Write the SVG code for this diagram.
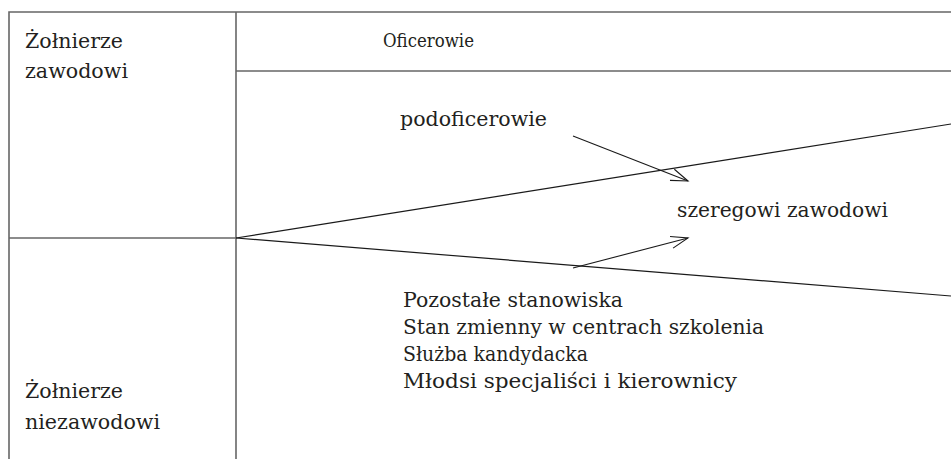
<svg xmlns="http://www.w3.org/2000/svg" width="951" height="459" viewBox="0 0 951 459">
  <style>
    .t { font-family: "DejaVu Serif", "Liberation Serif", serif; font-size: 20px; fill: #231f20; }
    .small { font-size: 19px; }
    .frame { stroke: #666666; stroke-width: 1.6; fill: none; }
    .diag { stroke: #1a1a1a; stroke-width: 1.2; fill: none; }
    .arrow { stroke: #1a1a1a; stroke-width: 1.1; fill: none; marker-end: url(#open); }
  </style>
  <defs>
    <marker id="open" markerUnits="userSpaceOnUse" markerWidth="24" markerHeight="20" refX="0" refY="0" viewBox="-20 -10 24 20" orient="auto" overflow="visible">
      <path d="M-17,-6 L0,0 L-17,6" fill="none" stroke="#1a1a1a" stroke-width="1.1"/>
    </marker>
  </defs>
  <rect width="951" height="459" fill="#ffffff"/>

  <g id="frame">
    <path class="frame" d="M9,459 V12 H951"/>
    <path class="frame" d="M236,12 V459"/>
    <path class="frame" d="M236,71 H951"/>
    <path class="frame" d="M9,238 H236"/>
  </g>

  <g id="zawodowi">
    <text class="t" x="25" y="48" textLength="98" lengthAdjust="spacingAndGlyphs">Żołnierze</text>
    <text class="t" x="25" y="78" textLength="103" lengthAdjust="spacingAndGlyphs">zawodowi</text>
  </g>
  <g id="niezawodowi">
    <text class="t" x="25" y="398" textLength="98" lengthAdjust="spacingAndGlyphs">Żołnierze</text>
    <text class="t" x="25" y="429" textLength="135" lengthAdjust="spacingAndGlyphs">niezawodowi</text>
  </g>
  <g id="oficerowie">
    <text class="t small" x="383" y="47" textLength="91" lengthAdjust="spacingAndGlyphs">Oficerowie</text>
  </g>
  <g id="podoficerowie">
    <text class="t" x="400" y="126" textLength="147" lengthAdjust="spacingAndGlyphs">podoficerowie</text>
  </g>
  <g id="szeregowi">
    <text class="t" x="677" y="217" textLength="211" lengthAdjust="spacingAndGlyphs">szeregowi zawodowi</text>
  </g>
  <g id="pozostale">
    <text class="t" x="403" y="307" textLength="220" lengthAdjust="spacingAndGlyphs">Pozostałe stanowiska</text>
    <text class="t" x="403" y="334" textLength="361" lengthAdjust="spacingAndGlyphs">Stan zmienny w centrach szkolenia</text>
    <text class="t" x="403" y="361" textLength="185" lengthAdjust="spacingAndGlyphs">Służba kandydacka</text>
    <text class="t" x="403" y="388" textLength="334" lengthAdjust="spacingAndGlyphs">Młodsi specjaliści i kierownicy</text>
  </g>

  <g id="connectors">
    <line class="diag" x1="236" y1="238" x2="951" y2="124"/>
    <line class="diag" x1="236" y1="238" x2="951" y2="296"/>
    <line class="arrow" x1="573" y1="136" x2="688" y2="181"/>
    <line class="arrow" x1="573" y1="268" x2="688" y2="238"/>
  </g>
</svg>
